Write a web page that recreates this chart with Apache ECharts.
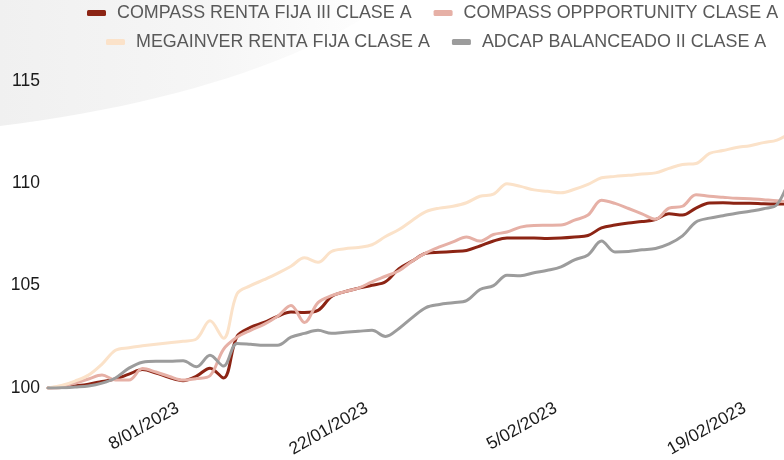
<!DOCTYPE html>
<html>
<head>
<meta charset="utf-8">
<script src="https://cdn.jsdelivr.net/npm/echarts@6/dist/echarts.min.js"></script>
<style>
html,body{margin:0;padding:0;background:#fff;}
#chart{width:784px;height:460px;}
</style>
</head>
<body>
<div id="chart"></div>
<script>
const categories = [
 '29/12/2022','30/12/2022','31/12/2022','1/01/2023','2/01/2023','3/01/2023','4/01/2023','5/01/2023',
 '6/01/2023','7/01/2023','8/01/2023','9/01/2023','10/01/2023','11/01/2023','12/01/2023','13/01/2023',
 '14/01/2023','15/01/2023','16/01/2023','17/01/2023','18/01/2023','19/01/2023','20/01/2023','21/01/2023',
 '22/01/2023','23/01/2023','24/01/2023','25/01/2023','26/01/2023','27/01/2023','28/01/2023','29/01/2023',
 '30/01/2023','31/01/2023','1/02/2023','2/02/2023','3/02/2023','4/02/2023','5/02/2023','6/02/2023',
 '7/02/2023','8/02/2023','9/02/2023','10/02/2023','11/02/2023','12/02/2023','13/02/2023','14/02/2023',
 '15/02/2023','16/02/2023','17/02/2023','18/02/2023','19/02/2023','20/02/2023','21/02/2023','22/02/2023'
];
const tickLabels = ['8/01/2023','22/01/2023','5/02/2023','19/02/2023'];
const yTicks = [100, 105, 110, 115];

const seriesNames = [
 'COMPASS RENTA FIJA III CLASE A',
 'COMPASS OPPPORTUNITY CLASE A',
 'MEGAINVER RENTA FIJA CLASE A',
 'ADCAP BALANCEADO II CLASE A'
];

const compassRentaFija = [
 100.00,100.02,100.10,100.19,100.32,100.44,100.68,100.90,100.73,100.51,100.36,100.58,100.97,100.49,
 102.52,102.96,103.20,103.50,103.71,103.69,103.79,104.47,104.71,104.88,105.02,105.19,105.83,106.21,
 106.58,106.63,106.67,106.72,106.94,107.18,107.33,107.33,107.33,107.31,107.33,107.38,107.45,107.82,
 107.96,108.06,108.13,108.23,108.51,108.45,108.79,109.04,109.05,109.03,109.03,109.00,108.99,109.00
];
const compassOpportunity = [
 100.00,100.07,100.24,100.44,100.63,100.39,100.39,100.95,100.78,100.56,100.39,100.46,100.60,101.89,
 102.48,102.82,103.11,103.50,104.03,103.20,104.17,104.51,104.71,104.88,105.19,105.46,105.73,106.21,
 106.60,106.89,107.14,107.38,107.18,107.50,107.62,107.86,107.94,107.95,107.96,108.20,108.45,109.17,
 109.02,108.77,108.51,108.25,108.79,108.88,109.44,109.37,109.32,109.27,109.25,109.20,109.15,109.08
];
const megainver = [
 100.00,100.12,100.34,100.63,101.17,101.84,101.97,102.06,102.14,102.21,102.28,102.40,103.28,102.43,
 104.60,105.00,105.29,105.60,105.95,106.36,106.14,106.67,106.80,106.87,107.00,107.40,107.74,108.20,
 108.62,108.79,108.88,109.05,109.37,109.47,109.98,109.85,109.68,109.61,109.54,109.71,109.95,110.27,
 110.34,110.39,110.46,110.51,110.73,110.92,110.97,111.46,111.60,111.75,111.84,111.99,112.11,112.48
];
const adcap = [
 100.00,100.01,100.05,100.10,100.24,100.49,100.97,101.26,101.31,101.31,101.33,101.04,101.60,101.07,
 102.18,102.14,102.09,102.09,102.48,102.67,102.82,102.67,102.72,102.77,102.82,102.52,102.91,103.45,
 103.93,104.08,104.17,104.27,104.81,105.00,105.51,105.49,105.63,105.75,105.92,106.26,106.50,107.18,
 106.65,106.67,106.75,106.82,107.04,107.43,108.11,108.30,108.42,108.54,108.64,108.76,108.96,110.40
];

const colors = ['#8C2414', '#E6B0A6', '#FBE2C9', '#9C9C9C'];
const values = [compassRentaFija, compassOpportunity, megainver, adcap];

// decorative background swoosh (not data)
const swoosh = [[0, 0], [390, 0]];
(function () {
  const p0 = [390, 0], p1 = [310, 60], p2 = [170, 105], p3 = [0, 126];
  for (let k = 1; k <= 24; k++) {
    const t = k / 24, u = 1 - t;
    swoosh.push([
      u*u*u*p0[0] + 3*u*u*t*p1[0] + 3*u*t*t*p2[0] + t*t*t*p3[0],
      u*u*u*p0[1] + 3*u*u*t*p1[1] + 3*u*t*t*p2[1] + t*t*t*p3[1]
    ]);
  }
})();

const chart = echarts.init(document.getElementById('chart'), null, {renderer: 'canvas'});

const legendCommon = {
  orient: 'horizontal',
  icon: 'roundRect',
  padding: 0,
  itemWidth: 19,
  itemHeight: 6,
  itemGap: 22,
  textStyle: {
    fontFamily: 'Liberation Sans, Arial, sans-serif',
    fontSize: 17.9,
    color: '#595959',
    padding: [0, 0, 0, 6]
  }
};

const option = {
  backgroundColor: '#ffffff',
  animation: false,
  color: colors,
  graphic: [
    {
      type: 'polygon',
      silent: true,
      z: -10,
      shape: { points: swoosh },
      style: {
        fill: {
          type: 'linear', x: 0, y: 0, x2: 1, y2: 0,
          colorStops: [
            {offset: 0, color: '#f0f0f0'},
            {offset: 0.55, color: '#f6f6f6'},
            {offset: 1, color: '#ffffff'}
          ]
        }
      }
    }
  ],
  legend: [
    Object.assign({}, legendCommon, {left: 87, top: 4, data: [seriesNames[0], seriesNames[1]]}),
    Object.assign({}, legendCommon, {left: 106, top: 33, data: [seriesNames[2], seriesNames[3]]})
  ],
  grid: {
    left: 48,
    right: -6.5,
    top: 81,
    bottom: 72,
    containLabel: false,
    outerBoundsMode: 'none'
  },
  xAxis: {
    type: 'category',
    data: categories,
    boundaryGap: false,
    axisLine: {show: false},
    axisTick: {show: false},
    splitLine: {show: false},
    axisLabel: {
      interval: function (idx, val) { return tickLabels.indexOf(val) >= 0; },
      rotate: 30,
      fontFamily: 'Liberation Sans, Arial, sans-serif',
      fontSize: 17.5,
      color: '#1a1a1a',
      margin: 16,
      padding: [0, 6, 0, 0]
    }
  },
  yAxis: {
    type: 'value',
    min: yTicks[0],
    max: yTicks[yTicks.length - 1],
    interval: yTicks[1] - yTicks[0],
    axisLine: {show: false},
    axisTick: {show: false},
    splitLine: {show: false},
    axisLabel: {
      fontFamily: 'Liberation Sans, Arial, sans-serif',
      fontSize: 17.5,
      color: '#1a1a1a',
      margin: 8
    }
  },
  series: seriesNames.map(function (name, i) {
    return {
      name: name,
      type: 'line',
      data: values[i],
      smooth: 0.35,
      showSymbol: false,
      symbol: 'none',
      lineStyle: {width: 3, color: colors[i], cap: 'round', join: 'round'},
      itemStyle: {color: colors[i]},
      z: 2 + i
    };
  })
};

chart.setOption(option);
</script>
</body>
</html>
